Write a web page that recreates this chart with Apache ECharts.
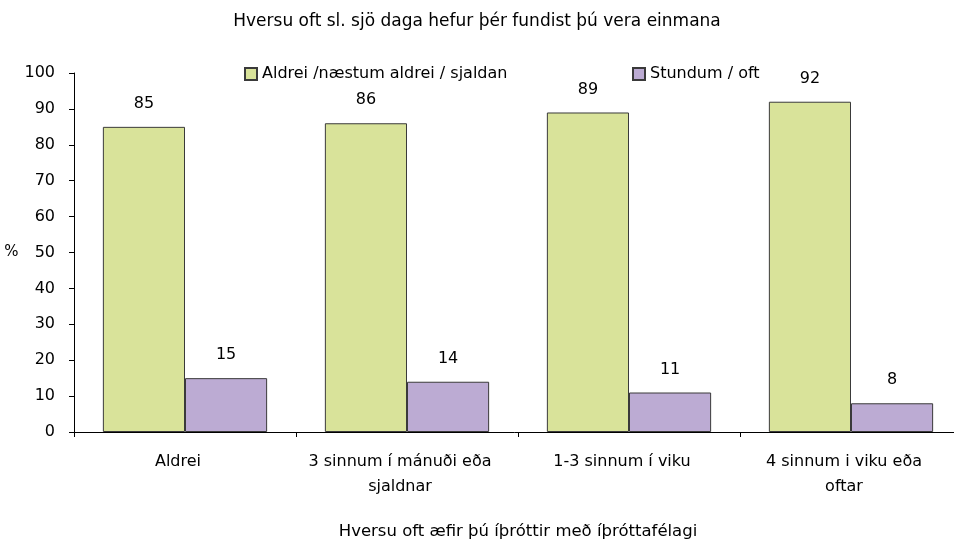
<!DOCTYPE html>
<html><head><meta charset="utf-8">
<script src="https://cdn.jsdelivr.net/npm/echarts@6/dist/echarts.min.js"></script>
<style>html,body{margin:0;padding:0;background:#fff}#c{width:954px;height:541px}</style>
</head><body><div id="c"></div>
<script>
const categories = ['Aldrei', '3 sinnum í mánuði eða\nsjaldnar', '1-3 sinnum í viku', '4 sinnum i viku eða\noftar'];
const seriesNames = ['Aldrei /næstum aldrei / sjaldan', 'Stundum / oft'];
const rarelyValues = [85, 86, 89, 92];
const oftenValues = [15, 14, 11, 8];
const yTicks = [0, 10, 20, 30, 40, 50, 60, 70, 80, 90, 100];

const font = '"DejaVu Sans", Verdana, sans-serif';
const chart = echarts.init(document.getElementById('c'));
const labelCfg = {show: true, position: 'top', distance: 15, color: '#000', fontSize: 16, fontFamily: font};
chart.setOption({
  backgroundColor: '#fff',
  animation: false,
  title: {text: 'Hversu oft sl. sjö daga hefur þér fundist þú vera einmana', left: 'center', top: 8,
    textStyle: {fontSize: 17, fontWeight: 'normal', color: '#000', fontFamily: font}},
  legend: [
    {data: [seriesNames[0]], left: 244, top: 66, padding: 0, itemWidth: 12, itemHeight: 12, icon: 'rect',
      textStyle: {fontSize: 16, color: '#000', fontFamily: font}},
    {data: [seriesNames[1]], left: 632, top: 66, padding: 0, itemWidth: 12, itemHeight: 12, icon: 'rect',
      textStyle: {fontSize: 16, color: '#000', fontFamily: font}}
  ],
  grid: {left: 74, top: 73, width: 888, bottom: 109, containLabel: false, outerBoundsMode: 'none'},
  xAxis: {
    type: 'category', data: categories,
    name: 'Hversu oft æfir þú íþróttir með íþróttafélagi', nameLocation: 'middle', nameGap: 91,
    nameTextStyle: {fontSize: 16.5, color: '#000', fontFamily: font},
    axisLine: {lineStyle: {color: '#000', width: 1}},
    axisTick: {show: true, alignWithLabel: false, length: 5, lineStyle: {color: '#000'}},
    axisLabel: {interval: 0, fontSize: 16, lineHeight: 25, margin: 17, padding: [0, 14, 0, 0], color: '#000', fontFamily: font}
  },
  yAxis: {
    type: 'value', min: yTicks[0], max: yTicks[yTicks.length - 1], interval: 10,
    name: '%', nameLocation: 'middle', nameGap: 52, nameRotate: 0,
    nameTextStyle: {fontSize: 15, color: '#000', fontFamily: font},
    splitLine: {show: false},
    axisLine: {show: true, lineStyle: {color: '#000', width: 1}},
    axisTick: {show: true, length: 5, lineStyle: {color: '#000'}},
    axisLabel: {fontSize: 16, margin: 19, color: '#000', fontFamily: font}
  },
  series: [
    {name: seriesNames[0], type: 'bar', data: rarelyValues, barGap: '0%', barCategoryGap: '26%',
      itemStyle: {color: '#d9e39a', borderColor: '#3a3a3a', borderWidth: 1}, label: labelCfg},
    {name: seriesNames[1], type: 'bar', data: oftenValues,
      itemStyle: {color: '#bcabd3', borderColor: '#3a3a3a', borderWidth: 1}, label: labelCfg}
  ]
});
</script></body></html>
